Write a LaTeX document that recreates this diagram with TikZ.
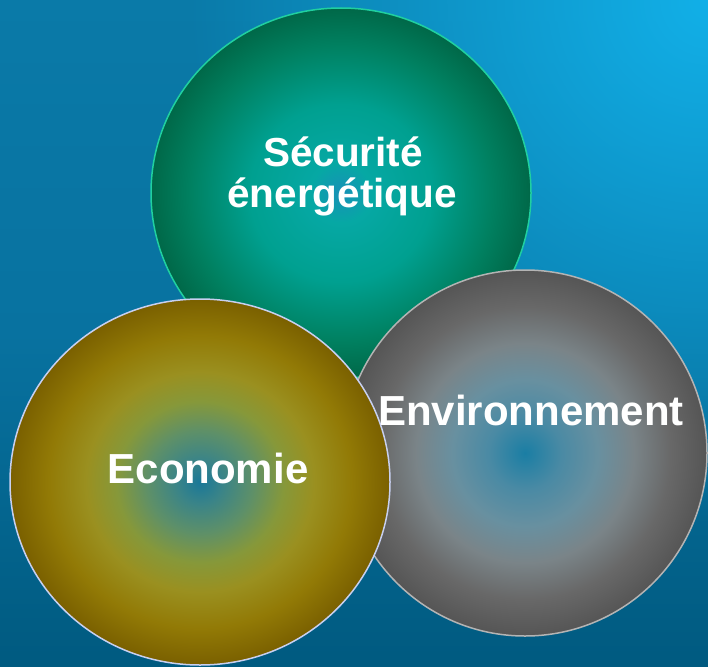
\documentclass[tikz,border=0pt]{standalone}
\usepackage{fontspec}
\setmainfont{Liberation Sans}
\usetikzlibrary{shapes.geometric,fadings}

% background
\definecolor{bgtop}{HTML}{0A7AA8}
\definecolor{bgmid}{HTML}{0872A0}
\definecolor{bgbot}{HTML}{005A80}
\definecolor{bgglow}{HTML}{12B0E8}

% green ball
\definecolor{gA}{HTML}{1890B8}
\definecolor{gB}{HTML}{06A8A4}
\definecolor{gC}{HTML}{00A090}
\definecolor{gD}{HTML}{008060}
\definecolor{gE}{HTML}{006848}
\definecolor{gline}{HTML}{20D0A0}

% olive ball
\definecolor{oA}{HTML}{1A7898}
\definecolor{oB}{HTML}{3A8488}
\definecolor{oC}{HTML}{5E9068}
\definecolor{oD}{HTML}{86983A}
\definecolor{oE}{HTML}{9A9020}
\definecolor{oF}{HTML}{927A06}
\definecolor{oG}{HTML}{7A6000}
\definecolor{oline}{HTML}{C8D0F0}

% grey ball
\definecolor{kA}{HTML}{1A7EA4}
\definecolor{kB}{HTML}{4A8AA4}
\definecolor{kC}{HTML}{6890A0}
\definecolor{kD}{HTML}{7A8488}
\definecolor{kE}{HTML}{686868}
\definecolor{kF}{HTML}{555555}
\definecolor{kline}{HTML}{B4B4B4}

\pgfdeclareradialshading{greenball}{\pgfpoint{0bp}{0bp}}{%
  color(0bp)=(gA); color(4bp)=(gB); color(12bp)=(gC);
  color(20bp)=(gD); color(25bp)=(gE); color(50bp)=(gE)}
\pgfdeclareradialshading{oliveball}{\pgfpoint{0bp}{0bp}}{%
  color(0bp)=(oA); color(3bp)=(oB); color(7bp)=(oC); color(11bp)=(oD);
  color(15bp)=(oE); color(20bp)=(oF); color(25bp)=(oG); color(50bp)=(oG)}
\pgfdeclareradialshading{greyball}{\pgfpoint{0bp}{0bp}}{%
  color(0bp)=(kA); color(5bp)=(kB); color(10bp)=(kC); color(15bp)=(kD);
  color(20bp)=(kE); color(25bp)=(kF); color(50bp)=(kF)}

\tikzfading[name=glowfade, inner color=transparent!0, outer color=transparent!100]

\tikzset{
  ball/.style={ellipse, inner sep=0pt, line width=1.5pt},
  label text/.style={text=white, anchor=base, inner sep=0pt,
    font=\bfseries\fontsize{42}{42}\selectfont},
  small label/.style={label text, font=\bfseries\fontsize{40.5}{40}\selectfont}
}

\begin{document}
\begin{tikzpicture}[x=1pt, y=-1pt]
  % page and background
  \useasboundingbox (0,0) rectangle (708,666);
  \shade[top color=bgtop, bottom color=bgbot, middle color=bgmid] (0,0) rectangle (708,666);
  \begin{scope}
    \clip (0,0) rectangle (708,666);
    \fill[bgglow, path fading=glowfade] (708,0) circle (520pt);
  \end{scope}

  % the three spheres
  \node[ball, minimum width=380pt, minimum height=370pt, shading=greenball, draw=gline] (secu) at (341,193) {};
  \node[ball, minimum width=364pt, minimum height=366pt, shading=greyball, draw=kline] (envi) at (525,453) {};
  \node[ball, minimum width=380pt, minimum height=366pt, shading=oliveball, draw=oline] (econ) at (200,482) {};

  % labels
  \node[small label] (secuA) at (343,166) {Sécurité};
  \node[small label] (secuB) at (342,207) {énergétique};
  \node[label text] (enviT) at (531,425) {Environnement};
  \node[label text] (econT) at (208,483) {Economie};
\end{tikzpicture}
\end{document}
